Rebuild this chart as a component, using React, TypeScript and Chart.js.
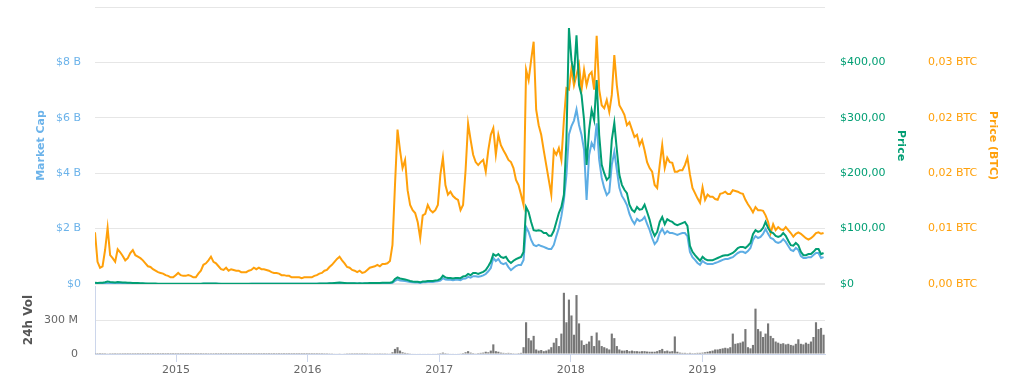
import React, { useEffect, useRef } from 'react';
import { Chart, registerables } from 'chart.js';

Chart.register(...registerables);

// ---- time frame ----
const START_UTC = Date.UTC(2014, 4, 21);
const DAY_MS = 86400000;
const STEP_DAYS = 7;
const END_DAY = 2027;

// ---- tick labels ----
const YEAR_LABELS = ['2015', '2016', '2017', '2018', '2019'];
const MCAP_TICKS = [0, 2, 4, 6, 8, 10];
const MCAP_LABELS = ['$0', '$2 B', '$4 B', '$6 B', '$8 B', ''];
const PRICE_TICKS = [0, 100, 200, 300, 400, 500];
const PRICE_LABELS = ['$0', '$100,00', '$200,00', '$300,00', '$400,00', ''];
const BTC_TICKS = [0, 0.0075, 0.015, 0.0225, 0.03, 0.0375];
const BTC_LABELS = ['0,00 BTC', '0,01 BTC', '0,02 BTC', '0,02 BTC', '0,03 BTC', ''];
const VOL_TICKS = [0, 300, 600];
const VOL_LABELS = ['0', '300 M', ''];

// ---- series (weekly samples) ----
const PRICE_BTC = [
  0.0070, 0.0030, 0.0022, 0.0024, 0.0046, 0.0076, 0.0039, 0.0035, 0.0030, 0.0047,
  0.0043, 0.0038, 0.0032, 0.0035, 0.0042, 0.0046, 0.0039, 0.0037, 0.0035, 0.0032,
  0.0028, 0.0024, 0.0023, 0.0020, 0.0018, 0.0016, 0.0015, 0.0014, 0.0012, 0.0011,
  0.0009, 0.0009, 0.0012, 0.0015, 0.0012, 0.0011, 0.0011, 0.0012, 0.0011, 0.0009,
  0.0009, 0.0014, 0.0018, 0.0026, 0.0028, 0.0032, 0.0037, 0.0030, 0.0028, 0.0024,
  0.0020, 0.0019, 0.0022, 0.0018, 0.0020, 0.0019, 0.0018, 0.0018, 0.0016, 0.0016,
  0.0016, 0.0018, 0.0019, 0.0022, 0.0020, 0.0022, 0.0020, 0.0020, 0.0019, 0.0018,
  0.0016, 0.0015, 0.0015, 0.0014, 0.0012, 0.0012, 0.0011, 0.0011, 0.0009, 0.0009,
  0.0009, 0.0009, 0.0008, 0.0009, 0.0009, 0.0009, 0.0009, 0.0011, 0.0012, 0.0014,
  0.0015, 0.0018, 0.0019, 0.0023, 0.0026, 0.0030, 0.0034, 0.0037, 0.0032, 0.0028,
  0.0023, 0.0022, 0.0019, 0.0018, 0.0016, 0.0018, 0.0015, 0.0016, 0.0019, 0.0022,
  0.0023, 0.0024, 0.0026, 0.0024, 0.0027, 0.0027, 0.0028, 0.0031, 0.0053, 0.0134,
  0.0209, 0.0181, 0.0157, 0.0168, 0.0127, 0.0107, 0.0100, 0.0096, 0.0084, 0.0062,
  0.0093, 0.0095, 0.0107, 0.0100, 0.0097, 0.0100, 0.0107, 0.0148, 0.0171, 0.0134,
  0.0121, 0.0125, 0.0119, 0.0116, 0.0114, 0.0100, 0.0107, 0.0154, 0.0217, 0.0195,
  0.0175, 0.0165, 0.0161, 0.0165, 0.0168, 0.0152, 0.0181, 0.0202, 0.0211, 0.0175,
  0.0202, 0.0188, 0.0181, 0.0175, 0.0168, 0.0165, 0.0157, 0.0141, 0.0134, 0.0121,
  0.0107, 0.0290, 0.0276, 0.0303, 0.0328, 0.0236, 0.0215, 0.0202, 0.0181, 0.0161,
  0.0141, 0.0121, 0.0181, 0.0175, 0.0184, 0.0168, 0.0222, 0.0265, 0.0263, 0.0292,
  0.0269, 0.0283, 0.0297, 0.0263, 0.0290, 0.0269, 0.0283, 0.0287, 0.0263, 0.0336,
  0.0263, 0.0242, 0.0238, 0.0249, 0.0233, 0.0256, 0.0310, 0.0269, 0.0242, 0.0236,
  0.0229, 0.0215, 0.0219, 0.0209, 0.0199, 0.0202, 0.0188, 0.0195, 0.0181, 0.0165,
  0.0157, 0.0152, 0.0134, 0.0130, 0.0161, 0.0188, 0.0157, 0.0171, 0.0165, 0.0164,
  0.0152, 0.0152, 0.0154, 0.0154, 0.0161, 0.0171, 0.0148, 0.0130, 0.0123, 0.0116,
  0.0110, 0.0131, 0.0114, 0.0121, 0.0118, 0.0118, 0.0115, 0.0114, 0.0122, 0.0123,
  0.0125, 0.0122, 0.0122, 0.0127, 0.0126, 0.0125, 0.0123, 0.0122, 0.0114, 0.0108,
  0.0103, 0.0097, 0.0104, 0.0100, 0.0100, 0.0099, 0.0093, 0.0084, 0.0069, 0.0081,
  0.0073, 0.0077, 0.0074, 0.0073, 0.0077, 0.0073, 0.0069, 0.0064, 0.0068, 0.0070,
  0.0068, 0.0065, 0.0062, 0.0060, 0.0062, 0.0065, 0.0069, 0.0070, 0.0068, 0.0069,
];

const PRICE_USD = [
  2.4, 2.0, 2.1, 2.3, 3.2, 4.5, 3.6, 3.2, 2.9, 3.4,
  3.1, 2.8, 2.5, 2.3, 2.2, 2.0, 1.8, 1.6, 1.5, 1.3,
  1.1, 0.9, 0.85, 0.8, 0.7, 0.6, 0.5, 0.45, 0.45, 0.42,
  0.4, 0.4, 0.45, 0.5, 0.42, 0.38, 0.36, 0.38, 0.35, 0.3,
  0.32, 0.4, 0.5, 0.7, 0.8, 0.9, 1.0, 0.8, 0.75, 0.6,
  0.5, 0.48, 0.52, 0.45, 0.48, 0.47, 0.45, 0.45, 0.42, 0.43,
  0.44, 0.46, 0.5, 0.55, 0.5, 0.55, 0.52, 0.5, 0.48, 0.47,
  0.46, 0.45, 0.45, 0.44, 0.43, 0.45, 0.45, 0.47, 0.45, 0.45,
  0.46, 0.45, 0.43, 0.44, 0.45, 0.48, 0.47, 0.55, 0.6, 0.7,
  0.8, 1.0, 1.1, 1.3, 1.5, 1.8, 2.2, 2.6, 2.2, 1.8,
  1.5, 1.4, 1.3, 1.2, 1.1, 1.2, 1.1, 1.2, 1.4, 1.6,
  1.8, 1.9, 2.0, 1.9, 2.1, 2.1, 2.2, 2.4, 3.5, 9,
  12, 10, 9, 8, 7, 5.5, 4.5, 4, 4, 3,
  4.5, 4.5, 5.5, 5.5, 5.5, 6.5, 7, 9, 15, 12,
  11, 11, 10, 11, 11, 10.5, 13.5, 14.5, 18, 16,
  20, 20, 18, 20, 22, 25, 32, 40, 54, 51,
  54, 49, 47, 49, 42, 38, 42, 45, 47, 49,
  58, 139, 130, 112, 97, 96, 97, 96, 92, 92,
  87, 87, 96, 112, 128, 139, 161, 260, 462, 404,
  377, 449, 359, 341, 296, 215, 278, 314, 296, 368,
  269, 215, 200, 188, 193, 260, 291, 242, 197, 179,
  170, 164, 143, 134, 130, 139, 134, 135, 143, 130,
  116, 97, 87, 94, 112, 121, 108, 117, 114, 112,
  108, 106, 108, 110, 112, 105, 69, 58, 52, 47,
  42, 49, 45, 43, 43, 43, 45, 47, 49, 51,
  52, 52, 54, 56, 60, 65, 67, 67, 65, 69,
  74, 90, 97, 94, 96, 101, 112, 101, 94, 92,
  87, 85, 87, 92, 87, 78, 70, 69, 74, 70,
  58, 52, 52, 54, 54, 58, 63, 63, 54, 56,
];

const MARKET_CAP_B = [
  0.006, 0.005, 0.005, 0.006, 0.008, 0.012, 0.010, 0.009, 0.008, 0.010,
  0.010, 0.009, 0.008, 0.008, 0.008, 0.007, 0.007, 0.006, 0.006, 0.005,
  0.005, 0.004, 0.004, 0.004, 0.003, 0.003, 0.003, 0.003, 0.003, 0.003,
  0.003, 0.003, 0.003, 0.004, 0.003, 0.003, 0.003, 0.003, 0.003, 0.002,
  0.002, 0.003, 0.004, 0.005, 0.006, 0.007, 0.008, 0.006, 0.006, 0.005,
  0.004, 0.004, 0.004, 0.004, 0.004, 0.004, 0.004, 0.004, 0.004, 0.004,
  0.004, 0.004, 0.005, 0.005, 0.005, 0.005, 0.005, 0.005, 0.005, 0.005,
  0.005, 0.005, 0.005, 0.005, 0.005, 0.005, 0.005, 0.005, 0.005, 0.005,
  0.005, 0.005, 0.005, 0.005, 0.005, 0.006, 0.006, 0.007, 0.007, 0.008,
  0.009, 0.012, 0.013, 0.016, 0.018, 0.022, 0.026, 0.031, 0.026, 0.022,
  0.018, 0.017, 0.016, 0.015, 0.014, 0.015, 0.014, 0.015, 0.017, 0.020,
  0.022, 0.024, 0.025, 0.024, 0.026, 0.026, 0.028, 0.030, 0.045, 0.11,
  0.16, 0.13, 0.12, 0.11, 0.09, 0.07, 0.06, 0.05, 0.05, 0.04,
  0.06, 0.06, 0.07, 0.07, 0.07, 0.09, 0.10, 0.12, 0.21, 0.16,
  0.15, 0.15, 0.14, 0.15, 0.15, 0.14, 0.19, 0.20, 0.26, 0.23,
  0.28, 0.28, 0.26, 0.28, 0.31, 0.36, 0.46, 0.58, 0.94, 0.83,
  0.90, 0.76, 0.72, 0.76, 0.61, 0.50, 0.58, 0.65, 0.69, 0.69,
  0.87, 2.06, 1.88, 1.59, 1.41, 1.37, 1.41, 1.37, 1.34, 1.30,
  1.26, 1.26, 1.41, 1.73, 2.02, 2.45, 3.03, 3.93, 5.40, 5.70,
  5.90, 6.30, 5.74, 5.38, 4.84, 3.03, 4.66, 5.09, 4.91, 5.80,
  4.48, 3.83, 3.47, 3.21, 3.32, 4.30, 4.77, 4.12, 3.47, 3.18,
  3.03, 2.85, 2.53, 2.31, 2.17, 2.35, 2.27, 2.31, 2.42, 2.17,
  1.95, 1.66, 1.44, 1.55, 1.84, 1.99, 1.81, 1.91, 1.84, 1.84,
  1.81, 1.77, 1.81, 1.84, 1.84, 1.73, 1.16, 0.97, 0.87, 0.76,
  0.69, 0.83, 0.76, 0.72, 0.72, 0.72, 0.76, 0.79, 0.83, 0.87,
  0.90, 0.90, 0.94, 0.97, 1.05, 1.12, 1.16, 1.16, 1.12, 1.19,
  1.30, 1.59, 1.73, 1.66, 1.70, 1.81, 1.99, 1.81, 1.66, 1.62,
  1.52, 1.48, 1.52, 1.62, 1.52, 1.37, 1.23, 1.19, 1.30, 1.23,
  1.01, 0.94, 0.94, 0.97, 0.97, 1.05, 1.12, 1.12, 0.94, 0.97,
];

const VOLUME_M = [
  1.5, 0.8, 0.6, 0.7, 1.2, 2.5, 1.5, 1.0, 0.8, 1.2,
  1.0, 0.8, 0.6, 0.6, 0.7, 0.8, 0.5, 0.5, 0.4, 0.4,
  0.4, 0.3, 0.3, 0.3, 0.3, 0.2, 0.2, 0.2, 0.2, 0.2,
  0.2, 0.2, 0.2, 0.3, 0.2, 0.2, 0.2, 0.2, 0.2, 0.2,
  0.2, 0.3, 0.4, 0.6, 0.7, 0.8, 1.0, 0.6, 0.5, 0.4,
  0.3, 0.3, 0.3, 0.2, 0.3, 0.2, 0.2, 0.2, 0.2, 0.2,
  0.2, 0.2, 0.3, 0.3, 0.3, 0.3, 0.2, 0.2, 0.2, 0.2,
  0.2, 0.2, 0.2, 0.2, 0.2, 0.2, 0.2, 0.2, 0.2, 0.2,
  0.2, 0.2, 0.2, 0.2, 0.2, 0.3, 0.3, 0.4, 0.5, 0.6,
  0.8, 1.2, 1.5, 2.0, 2.5, 3.5, 5.0, 6.0, 4.0, 3.0,
  2.0, 1.5, 1.2, 1.0, 1.0, 1.2, 1.0, 1.0, 1.5, 2.0,
  2.5, 2.0, 2.0, 1.8, 2.0, 2.0, 2.5, 3.0, 15, 45,
  60, 30, 15, 10, 8, 6, 5, 4, 4, 5,
  4, 4, 5, 4, 5, 5, 6, 8, 12, 8,
  6, 5, 5, 4, 5, 6, 8, 15, 25, 12,
  8, 6, 8, 10, 12, 20, 15, 30, 85, 25,
  20, 12, 10, 8, 10, 8, 7, 6, 8, 10,
  60, 280, 140, 120, 160, 40, 30, 35, 25, 30,
  40, 60, 100, 140, 70, 180, 540, 280, 480, 340,
  170, 520, 270, 120, 80, 90, 110, 160, 70, 190,
  120, 70, 60, 50, 40, 180, 140, 70, 40, 30,
  30, 35, 25, 30, 25, 25, 22, 25, 25, 22,
  20, 20, 20, 25, 35, 45, 25, 30, 22, 25,
  155, 20, 12, 10, 10, 8, 10, 8, 8, 10,
  10, 12, 15, 20, 25, 30, 40, 40, 45, 50,
  55, 50, 60, 180, 90, 95, 100, 110, 220, 60,
  50, 80, 400, 220, 200, 150, 180, 270, 160, 140,
  110, 100, 90, 95, 85, 90, 80, 75, 90, 130,
  90, 85, 100, 90, 110, 150, 280, 220, 230, 170,
];

// ---- styles ----
const FONT = '"DejaVu Sans", Verdana, sans-serif';
const BLUE_LINE = '#5dade4';
const BLUE_TEXT = '#6cb3ea';
const GREEN = '#019e73';
const ORANGE = '#ffa00a';
const GREY_TEXT = '#666666';
const AXIS_LINE = '#ccd6eb';
const GRID = '#e6e6e6';

const toPoints = (arr: number[]) => arr.map((v, i) => ({ x: i * STEP_DAYS, y: v }));
const yearDays = () => YEAR_LABELS.map((y) => (Date.UTC(Number(y), 0, 1) - START_UTC) / DAY_MS);
const setTicks = (vals: number[]) => (s: any) => {
  s.ticks = vals.map((v) => ({ value: v }));
};
const fitWidth = (w: number) => (s: any) => {
  s.width = w;
  s.paddingTop = 0;
  s.paddingBottom = 0;
};

export default function App() {
  const mainRef = useRef<HTMLCanvasElement | null>(null);
  const volRef = useRef<HTMLCanvasElement | null>(null);

  useEffect(() => {
    const tickFont = { family: FONT, size: 11 };
    const titleFont = { family: FONT, size: 11, weight: 'bold' as const };

    const main = new Chart(mainRef.current as HTMLCanvasElement, {
      type: 'line',
      data: {
        datasets: [
          { label: 'Price', data: toPoints(PRICE_USD), yAxisID: 'yPrice', borderColor: GREEN, borderWidth: 2, pointRadius: 0, tension: 0, order: 0 },
          { label: 'Price (BTC)', data: toPoints(PRICE_BTC), yAxisID: 'yBtc', borderColor: ORANGE, borderWidth: 2, pointRadius: 0, tension: 0, order: 1 },
          { label: 'Market Cap', data: toPoints(MARKET_CAP_B), yAxisID: 'yCap', borderColor: BLUE_LINE, borderWidth: 2, pointRadius: 0, tension: 0, order: 2 },
        ],
      },
      options: {
        responsive: false,
        animation: false,
        devicePixelRatio: 1,
        parsing: false as any,
        layout: { padding: { left: 35, right: 26, top: 7, bottom: 8 } },
        plugins: { legend: { display: false }, tooltip: { enabled: false } },
        scales: {
          x: { type: 'linear', min: 0, max: END_DAY, display: false },
          yCap: {
            type: 'linear', position: 'left', min: 0, max: 10,
            afterBuildTicks: setTicks(MCAP_TICKS),
            afterFit: fitWidth(60),
            grid: { color: GRID, drawTicks: false, lineWidth: (c: any) => (c.tick && c.tick.value === 0 ? 2 : 1) },
            border: { display: false },
            ticks: { padding: 14, color: BLUE_TEXT, font: tickFont, callback: (_v: any, i: number) => MCAP_LABELS[i] },
            title: { display: true, text: 'Market Cap', color: BLUE_TEXT, font: titleFont, padding: 0 },
          },
          yPrice: {
            type: 'linear', position: 'right', min: 0, max: 500,
            afterBuildTicks: setTicks(PRICE_TICKS),
            afterFit: fitWidth(82),
            grid: { display: false, drawTicks: false },
            border: { display: false },
            ticks: { padding: 15, color: GREEN, font: tickFont, callback: (_v: any, i: number) => PRICE_LABELS[i] },
            title: { display: true, text: 'Price', color: GREEN, font: titleFont, padding: 0 },
          },
          yBtc: {
            type: 'linear', position: 'right', min: 0, max: 0.0375,
            afterBuildTicks: setTicks(BTC_TICKS),
            afterFit: fitWidth(92),
            grid: { display: false, drawTicks: false },
            border: { display: false },
            ticks: { padding: 21, color: ORANGE, font: tickFont, callback: (_v: any, i: number) => BTC_LABELS[i] },
            title: { display: true, text: 'Price (BTC)', color: ORANGE, font: titleFont, padding: 0 },
          },
        },
      },
    } as any);

    const vol = new Chart(volRef.current as HTMLCanvasElement, {
      type: 'bar',
      data: {
        datasets: [
          { label: '24h Vol', data: toPoints(VOLUME_M), backgroundColor: '#777777', borderWidth: 0, barPercentage: 0.85, categoryPercentage: 1 },
        ],
      },
      options: {
        responsive: false,
        animation: false,
        devicePixelRatio: 1,
        layout: { padding: { left: 22, right: 200, top: 2, bottom: 0 } },
        plugins: { legend: { display: false }, tooltip: { enabled: false } },
        scales: {
          x: {
            type: 'linear', min: 0, max: END_DAY, offset: false,
            afterBuildTicks: (s: any) => { s.ticks = yearDays().map((v) => ({ value: v })); },
            afterFit: (s: any) => { s.height = 32; s.paddingLeft = 0; s.paddingRight = 0; },
            grid: { offset: false, drawOnChartArea: false, drawTicks: true, tickLength: 8, color: AXIS_LINE },
            border: { display: true, color: AXIS_LINE },
            ticks: { padding: 2, color: GREY_TEXT, font: tickFont, maxRotation: 0, autoSkip: false, callback: (_v: any, i: number) => YEAR_LABELS[i] },
          },
          y: {
            type: 'linear', min: 0, max: 600,
            afterBuildTicks: setTicks(VOL_TICKS),
            afterFit: fitWidth(73),
            grid: { color: (c: any) => (c.tick && c.tick.value === 300 ? GRID : 'rgba(0,0,0,0)'), drawTicks: false },
            border: { display: true, color: AXIS_LINE },
            ticks: { padding: 17, color: GREY_TEXT, font: tickFont, callback: (_v: any, i: number) => VOL_LABELS[i] },
            title: { display: true, text: '24h Vol', color: '#555555', font: { family: FONT, size: 12, weight: 'bold' }, padding: 0 },
          },
        },
      },
    } as any);

    return () => {
      main.destroy();
      vol.destroy();
    };
  }, []);

  return (
    <div style={{ position: 'absolute', left: 0, top: 0, width: 1025, height: 386, background: '#ffffff', overflow: 'hidden' }}>
      <canvas ref={mainRef} width={1025} height={292} style={{ position: 'absolute', left: 0, top: 0, width: 1025, height: 292 }} />
      <canvas ref={volRef} width={1025} height={102} style={{ position: 'absolute', left: 0, top: 284, width: 1025, height: 102 }} />
    </div>
  );
}
